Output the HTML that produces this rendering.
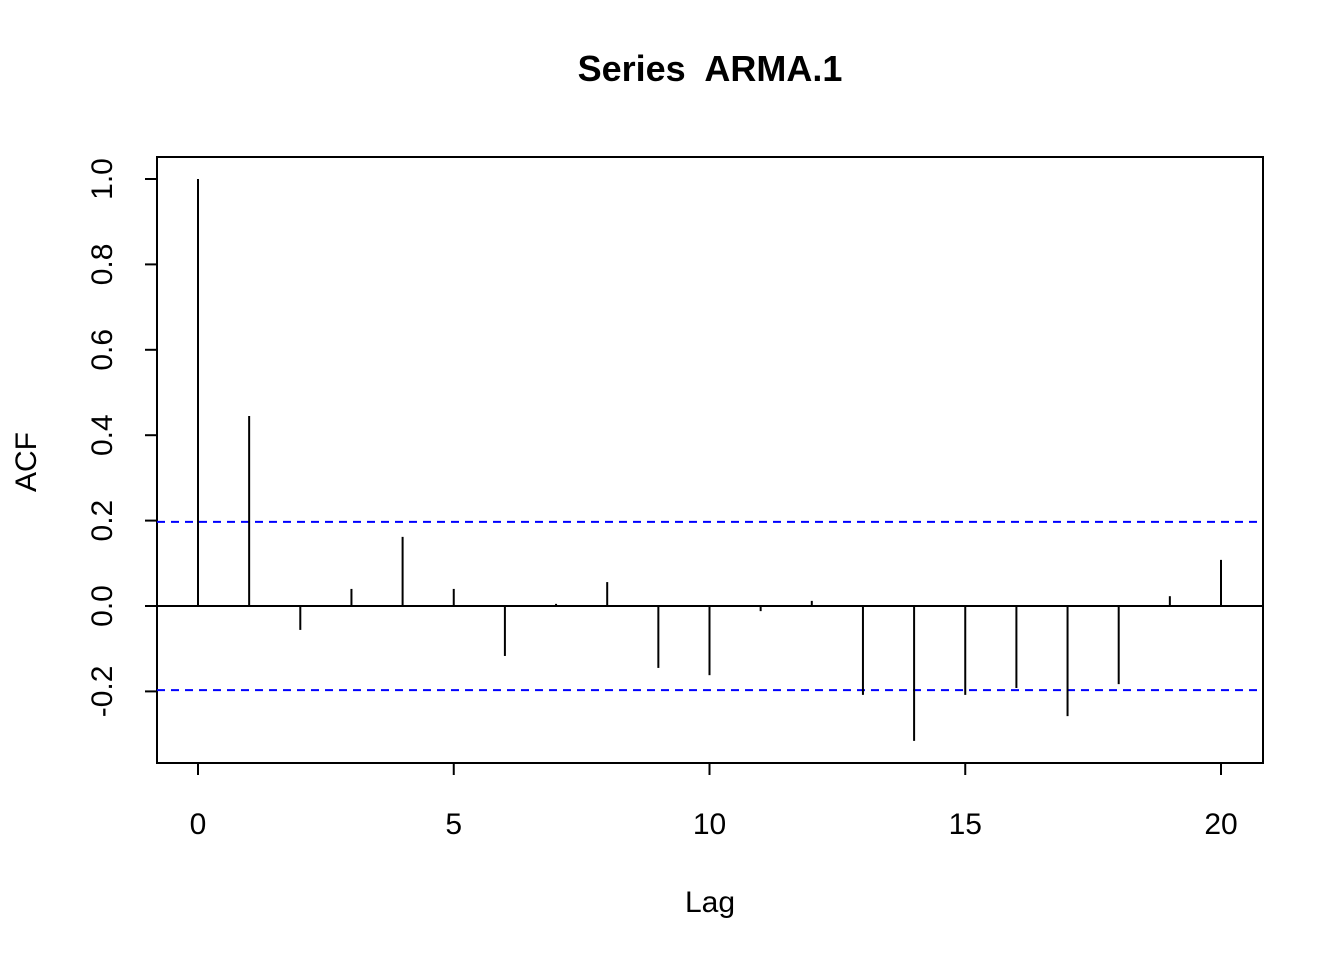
<!DOCTYPE html>
<html><head><meta charset="utf-8"><style>
html,body{margin:0;padding:0;background:#fff}
svg{display:block;font-family:"Liberation Sans",Arial,sans-serif}
</style></head><body>
<svg id="chart" width="1344" height="960">
<text x="710" y="81" text-anchor="middle" font-size="36" font-weight="bold">Series&#160; ARMA.1</text>
<rect x="157" y="157" width="1106" height="606" fill="none" stroke="#000" stroke-width="2"/>
<text x="710" y="912" text-anchor="middle" font-size="30">Lag</text>
<text transform="translate(36,462) rotate(-90)" text-anchor="middle" font-size="30">ACF</text>
<g id="marks"></g>
</svg>
<script>
const lags=[0,1,2,3,4,5,6,7,8,9,10,11,12,13,14,15,16,17,18,19,20];
const acf=[1.0,0.445,-0.056,0.040,0.162,0.040,-0.117,0.005,0.056,-0.145,-0.162,-0.012,0.012,-0.208,-0.316,-0.208,-0.192,-0.258,-0.183,0.023,0.108];
const ci=0.197;
const xTicks=[0,5,10,15,20];
const yTicks=[-0.2,0.0,0.2,0.4,0.6,0.8,1.0];
const x=v=>198+v*(1221-198)/20;
const y=v=>606-v*427;
const NS='http://www.w3.org/2000/svg';
const g=document.getElementById('marks');
function mk(t,a){const e=document.createElementNS(NS,t);for(const k in a)e.setAttribute(k,a[k]);g.appendChild(e);return e;}
let e;
e=mk('line',{x1:157,x2:1263,y1:y(0),y2:y(0),stroke:'#000','stroke-width':2});


[ci,-ci].forEach(c=>{
 e=mk('line',{x1:157,x2:1263,y1:y(c),y2:y(c),stroke:'#0000ff','stroke-width':2,'stroke-dasharray':'8,6'});
 
 
});
lags.forEach((l,i)=>{
 e=mk('line',{x1:x(l),x2:x(l),y1:y(0),y2:y(acf[i]),stroke:'#000','stroke-width':2});
 
 
});
xTicks.forEach(t=>{
 e=mk('line',{x1:x(t),x2:x(t),y1:763,y2:775,stroke:'#000','stroke-width':2});
 
 
 e=mk('text',{x:x(t),y:834,'text-anchor':'middle','font-size':30});
 e.textContent=t;
 
 
});
yTicks.forEach(t=>{
 e=mk('line',{x1:145,x2:157,y1:y(t),y2:y(t),stroke:'#000','stroke-width':2});
 
 
 e=mk('text',{transform:`translate(112,${y(t)}) rotate(-90)`,'text-anchor':'middle','font-size':30});
 e.textContent=t.toFixed(1);
 
 
});
</script>
</body></html>
